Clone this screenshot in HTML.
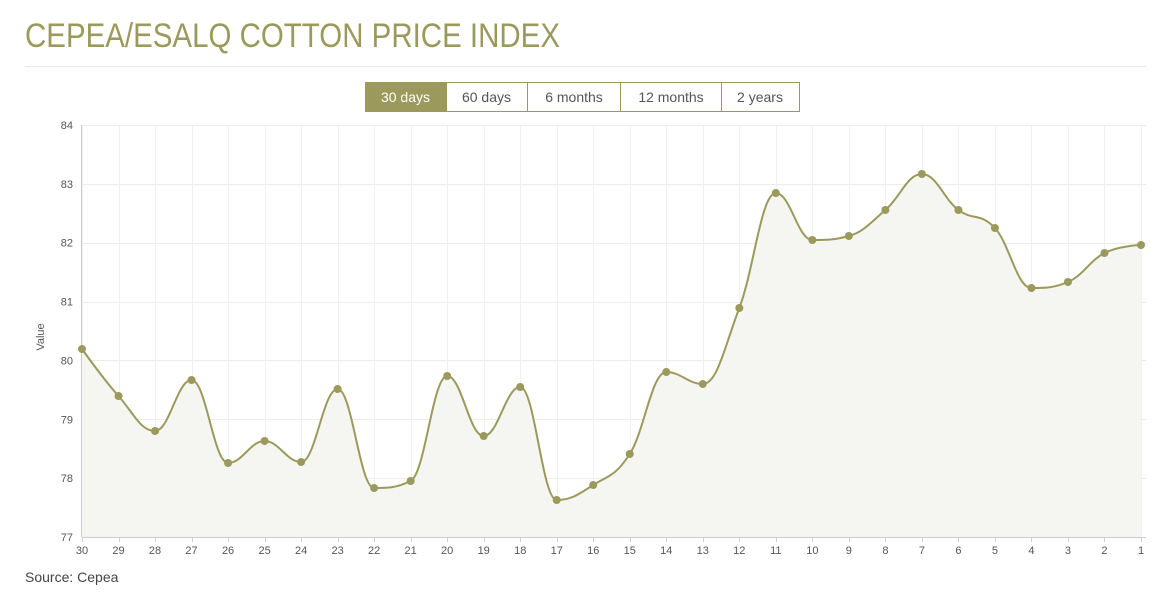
<!DOCTYPE html>
<html><head><meta charset="utf-8"><style>
html,body{margin:0;padding:0;background:#fff;}
svg{display:block;font-family:"Liberation Sans",sans-serif;}
</style></head><body>
<svg id="s" width="1168" height="600" viewBox="0 0 1168 600">
<text x="25" y="47" font-size="34" fill="#9b9a5c" textLength="535" lengthAdjust="spacingAndGlyphs">CEPEA/ESALQ COTTON PRICE INDEX</text>
<line x1="25" y1="66.5" x2="1146" y2="66.5" stroke="#e6e6e6"/>
<g font-size="14" text-anchor="middle">
<rect x="365" y="82" width="81" height="30" fill="#9b9a5c"/>
<rect x="446.5" y="82.5" width="353" height="29" fill="#fff" stroke="#9b9a5c"/>
<line x1="527.5" y1="82" x2="527.5" y2="112" stroke="#9b9a5c"/>
<line x1="620.5" y1="82" x2="620.5" y2="112" stroke="#9b9a5c"/>
<line x1="721.5" y1="82" x2="721.5" y2="112" stroke="#9b9a5c"/>
<text x="405.5" y="102" fill="#fff">30 days</text>
<text x="486.5" y="102" fill="#555">60 days</text>
<text x="574" y="102" fill="#555">6 months</text>
<text x="671" y="102" fill="#555">12 months</text>
<text x="760" y="102" fill="#555">2 years</text>
</g>
<g id="grid"></g>
<path id="area" fill="#f5f5f1"/>
<path id="line" fill="none" stroke="#9b9a5c" stroke-width="2"/>
<g id="pts" fill="#9b9a5c"></g>
<text transform="translate(44,337) rotate(-90)" font-size="11" fill="#555" text-anchor="middle">Value</text>
<text x="25" y="582" font-size="14" fill="#444">Source: Cepea</text>
</svg>
<script>
var ns="http://www.w3.org/2000/svg";
function el(t,a,p){var e=document.createElementNS(ns,t);for(var k in a)e.setAttribute(k,a[k]);p.appendChild(e);return e;}
var g=document.getElementById('grid');
var x0=82,x1=1141,yt=125,yb=537;
var dx=(x1-x0)/29;
for(var v=77;v<=84;v++){var y=yb-(v-77)*(yb-yt)/7;
el('line',{x1:x0,x2:1146,y1:Math.round(y)+.5,y2:Math.round(y)+.5,stroke:'#ececec'},g);
var t=el('text',{x:73,y:y+4,'font-size':11,fill:'#555','text-anchor':'end'},g);t.textContent=v;}
for(var i=0;i<30;i++){var x=x0+i*dx;
el('line',{x1:Math.round(x)+.5,x2:Math.round(x)+.5,y1:yt,y2:yb,stroke:'#f0f0f0'},g);
el('line',{x1:Math.round(x)+.5,x2:Math.round(x)+.5,y1:yb,y2:yb+5,stroke:'#ccc'},g);
var t=el('text',{x:x,y:yb+17,'font-size':11,fill:'#555','text-anchor':'middle'},g);t.textContent=30-i;}
el('line',{x1:x0-.5,x2:x0-.5,y1:yt,y2:yb,stroke:'#ccc'},g);
el('line',{x1:x0,x2:1146,y1:yb+.5,y2:yb+.5,stroke:'#ccc'},g);
var Y=[349,396,431,380,463,441,462,389,488,481,376,436,387,500,485,454,372,384,308,193,240,236,210,174,210,228,288,282,253,245];
var P=Y.map(function(y,i){return [x0+i*dx,y];});
// Highcharts-like control points
var L=[],R=[];
for(var i=0;i<P.length;i++){
 var cur=P[i];
 if(i==0||i==P.length-1){L[i]=cur.slice();R[i]=cur.slice();continue;}
 var pr=P[i-1],nx=P[i+1];
 var h=dx/2.5;
 var s=(nx[1]-pr[1])/(nx[0]-pr[0]);
 var ly=cur[1]-s*h, ry=cur[1]+s*h;
 if(ly>pr[1]&&ly>cur[1]){ly=Math.max(pr[1],cur[1]);ry=2*cur[1]-ly;}
 else if(ly<pr[1]&&ly<cur[1]){ly=Math.min(pr[1],cur[1]);ry=2*cur[1]-ly;}
 if(ry>nx[1]&&ry>cur[1]){ry=Math.max(nx[1],cur[1]);ly=2*cur[1]-ry;}
 else if(ry<nx[1]&&ry<cur[1]){ry=Math.min(nx[1],cur[1]);ly=2*cur[1]-ry;}
 L[i]=[cur[0]-h,ly];R[i]=[cur[0]+h,ry];
}
var d='M'+P[0][0]+','+P[0][1];
for(var i=0;i<P.length-1;i++){
 d+=' C'+R[i][0]+','+R[i][1]+' '+L[i+1][0]+','+L[i+1][1]+' '+P[i+1][0]+','+P[i+1][1];}
document.getElementById('line').setAttribute('d',d);
document.getElementById('area').setAttribute('d',d+' L'+x1+','+yb+' L'+x0+','+yb+'Z');
var pg=document.getElementById('pts');
P.forEach(function(p){el('circle',{cx:p[0],cy:p[1],r:4},pg);});
</script>
</body></html>
